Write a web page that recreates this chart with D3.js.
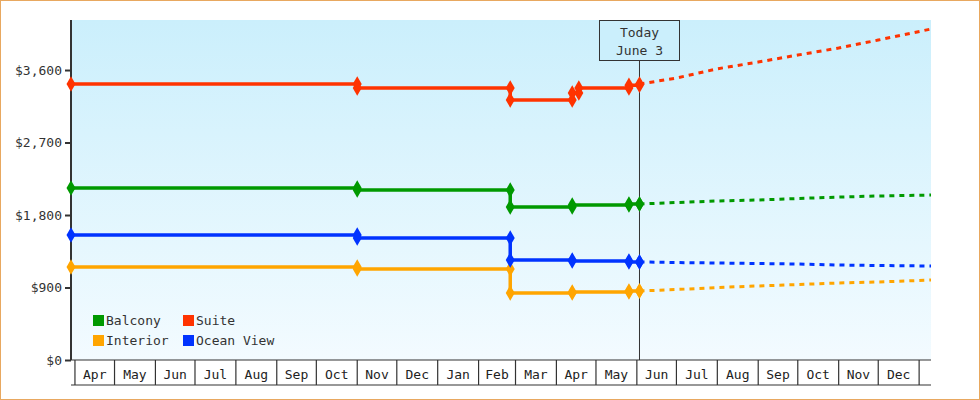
<!DOCTYPE html>
<html><head><meta charset="utf-8">
<script src="https://cdn.jsdelivr.net/npm/d3@7"></script>
<style>
body{margin:0;background:#fff;}
svg{font-family:"DejaVu Sans Mono",monospace;}
</style></head><body>
<svg id="chart" width="980" height="400"></svg>
<script>
// price history and forecast per cabin type (date, price)
let balcony = [["2022-03-29",2135],["2022-11-01",2110],["2023-02-25",1899],["2023-04-13",1924],["2023-05-26",1937],["2023-06-03",1937]];
let suite = [["2022-03-29",3426],["2022-11-01",3377],["2023-02-25",3228],["2023-04-13",3314],["2023-04-18",3377],["2023-05-26",3410],["2023-06-03",3426]];
let oceanView = [["2022-03-29",1552],["2022-11-01",1514],["2023-02-25",1241],["2023-04-13",1229],["2023-05-26",1217],["2023-06-03",1217]];
let interior = [["2022-03-29",1154],["2022-11-01",1130],["2023-02-25",832],["2023-04-13",844],["2023-05-26",857],["2023-06-03",857]];

let balconyForecast = [["2023-06-03",1937],["2023-07-01",1955],["2023-08-01",1974],["2023-09-01",1986],["2023-10-01",2005],["2023-11-01",2023],["2023-12-01",2036],["2024-01-10",2048]];
let suiteForecast = [["2023-06-03",3426],["2023-07-01",3500],["2023-08-01",3615],["2023-09-01",3699],["2023-10-01",3786],["2023-11-01",3873],["2023-12-01",3972],["2024-01-10",4109]];
let oceanForecast = [["2023-06-03",1217],["2023-07-01",1210],["2023-08-01",1204],["2023-09-01",1198],["2023-10-01",1192],["2023-11-01",1179],["2023-12-01",1173],["2024-01-10",1167]];
let interiorForecast = [["2023-06-03",857],["2023-07-01",875],["2023-08-01",900],["2023-09-01",919],["2023-10-01",937],["2023-11-01",956],["2023-12-01",968],["2024-01-10",993]];

let series = [
    {name: "Balcony", color: "#009900", history: balcony, forecast: balconyForecast},
    {name: "Suite", color: "#ff3300", history: suite, forecast: suiteForecast},
    {name: "Interior", color: "#ffa500", history: interior, forecast: interiorForecast},
    {name: "Ocean View", color: "#0033ff", history: oceanView, forecast: oceanForecast}
];
let yTicks = [0, 900, 1800, 2700, 3600];
let today = "2023-06-03";
let todayLabel = ["Today", "June 3"];

let parse = d3.timeParse("%Y-%m-%d");
let svg = d3.select("#chart");
let plotLeft = 71, plotRight = 931, plotTop = 20, plotBottom = 360;

svg.append("rect").attr("x", 0.5).attr("y", 0.5).attr("width", 979).attr("height", 399)
    .attr("fill", "none").attr("stroke", "#e8a860");

let grad = svg.append("defs").append("linearGradient").attr("id", "bg")
    .attr("x1", 0).attr("y1", 0).attr("x2", 0).attr("y2", 1);
grad.append("stop").attr("offset", "0%").attr("stop-color", "#cbeffc");
grad.append("stop").attr("offset", "100%").attr("stop-color", "#f3fbff");
svg.append("rect").attr("x", plotLeft).attr("y", plotTop).attr("width", plotRight - plotLeft).attr("height", plotBottom - plotTop)
    .attr("fill", "url(#bg)");

let x = d3.scaleTime().domain([parse("2022-03-29"), parse("2024-01-10")]).range([plotLeft, plotRight]);
let y = d3.scaleLinear().domain([0, 4221]).range([plotBottom, plotTop]);

// month cells under the plot
let months = d3.timeMonth.range(parse("2022-04-01"), parse("2024-01-01"));
let monthG = svg.append("g");
months.forEach(m => {
    let x0 = x(m);
    monthG.append("line").attr("x1", x0).attr("x2", x0).attr("y1", plotBottom).attr("y2", 385)
        .attr("stroke", "#333").attr("stroke-width", 1.2);
    monthG.append("text").attr("x", (x0 + x(d3.timeMonth.offset(m, 1))) / 2).attr("y", 379)
        .attr("text-anchor", "middle").attr("font-size", 13).attr("fill", "#222")
        .text(d3.timeFormat("%b")(m));
});
monthG.append("line").attr("x1", x(parse("2024-01-01"))).attr("x2", x(parse("2024-01-01")))
    .attr("y1", plotBottom).attr("y2", 385).attr("stroke", "#333").attr("stroke-width", 1.2);
monthG.append("line").attr("x1", plotLeft).attr("x2", plotRight).attr("y1", 385).attr("y2", 385)
    .attr("stroke", "#333").attr("stroke-width", 1.2);
monthG.append("line").attr("x1", plotLeft).attr("x2", plotRight).attr("y1", plotBottom).attr("y2", plotBottom)
    .attr("stroke", "#333").attr("stroke-width", 1.2);

// y axis
let yAxis = svg.append("g").attr("transform", `translate(${plotLeft},0)`)
    .call(d3.axisLeft(y).tickValues(yTicks).tickSize(6).tickFormat(d => "$" + d3.format(",")(d)));
yAxis.select(".domain").attr("stroke", "#333").attr("stroke-width", 2).attr("d", `M0,${plotTop}V${plotBottom}`);
yAxis.selectAll(".tick line").attr("stroke", "#333").attr("stroke-width", 2);
yAxis.selectAll(".tick text").attr("font-family", "DejaVu Sans Mono").attr("font-size", 13).attr("fill", "#333");

// today marker
let tx = x(parse(today));
svg.append("line").attr("x1", tx).attr("x2", tx).attr("y1", 60).attr("y2", plotBottom).attr("stroke", "#333");
svg.append("rect").attr("x", tx - 40).attr("y", 20.5).attr("width", 80).attr("height", 40)
    .attr("fill", "#cbeffc").attr("stroke", "#333");
todayLabel.forEach((t, i) => svg.append("text").attr("x", tx).attr("y", 37 + i * 18)
    .attr("text-anchor", "middle").attr("font-size", 13).attr("fill", "#333").text(t));

let stepLine = d3.line().x(d => x(parse(d[0]))).y(d => y(d[1])).curve(d3.curveStepAfter);
let plainLine = d3.line().x(d => x(parse(d[0]))).y(d => y(d[1]));
let diamond = d3.symbol().type(d3.symbolDiamond).size(70);

series.forEach(s => {
    svg.append("path").attr("d", plainLine(s.forecast)).attr("fill", "none")
        .attr("stroke", s.color).attr("stroke-width", 3).attr("stroke-dasharray", "5,5");
    svg.append("path").attr("d", stepLine(s.history)).attr("fill", "none")
        .attr("stroke", s.color).attr("stroke-width", 3.5);
    let marks = [];
    s.history.forEach((d, i) => {
        if (i > 0) marks.push([d[0], s.history[i - 1][1]]);
        marks.push(d);
    });
    svg.append("g").selectAll("path").data(marks).enter().append("path")
        .attr("d", diamond).attr("fill", s.color)
        .attr("transform", d => `translate(${x(parse(d[0]))},${y(d[1])})`);
});

// legend
let legend = svg.append("g");
series.forEach((s, i) => {
    let lx = 93 + (i % 2) * 90, ly = 315 + Math.floor(i / 2) * 20;
    legend.append("rect").attr("x", lx).attr("y", ly).attr("width", 11).attr("height", 11).attr("fill", s.color);
    legend.append("text").attr("x", lx + 13).attr("y", ly + 10).attr("font-size", 13).attr("fill", "#333").text(s.name);
});
</script>
</body></html>
